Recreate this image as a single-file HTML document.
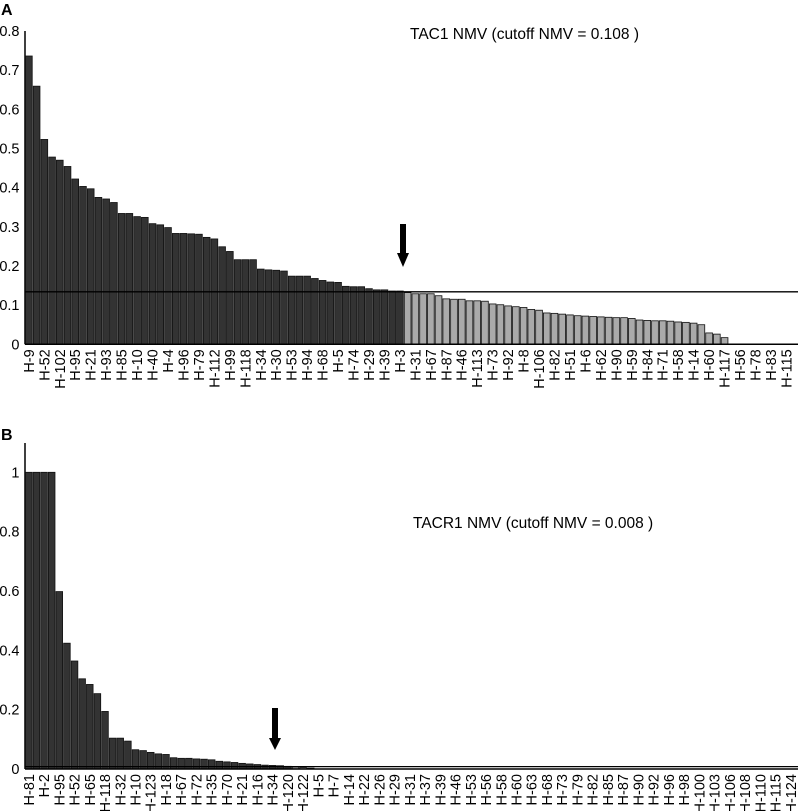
<!DOCTYPE html>
<html><head><meta charset="utf-8"><style>
html,body{margin:0;padding:0;background:#fff;}
svg{display:block;font-family:"Liberation Sans",Arial,sans-serif;}
</style></head><body>
<svg id="c" width="798" height="811" viewBox="0 0 798 811" xmlns="http://www.w3.org/2000/svg">
<text x="1" y="15" font-size="16" font-weight="bold">A</text>
<text x="410" y="39" font-size="15.5">TAC1 NMV (cutoff NMV = 0.108 )</text>
<text x="1" y="440" font-size="16" font-weight="bold">B</text>
<text x="413" y="528" font-size="15.5">TACR1 NMV (cutoff NMV = 0.008 )</text>
<g id="ga"></g>
<g id="gb"></g>
</svg>
<script>
const aLabels=["H-9","H-52","H-102","H-95","H-21","H-93","H-85","H-10","H-40","H-4","H-96","H-79","H-112","H-99","H-118","H-34","H-30","H-53","H-94","H-68","H-5","H-74","H-29","H-39","H-3","H-31","H-67","H-87","H-46","H-113","H-73","H-92","H-8","H-106","H-82","H-51","H-6","H-62","H-90","H-59","H-84","H-71","H-58","H-14","H-60","H-117","H-56","H-78","H-83","H-115"];
const aValues=[0.736,0.659,0.523,0.478,0.470,0.454,0.422,0.403,0.397,0.375,0.371,0.362,0.334,0.334,0.326,0.324,0.308,0.305,0.298,0.283,0.283,0.282,0.281,0.273,0.269,0.249,0.237,0.216,0.216,0.216,0.192,0.190,0.189,0.187,0.174,0.174,0.174,0.168,0.163,0.159,0.158,0.148,0.147,0.147,0.142,0.139,0.139,0.136,0.136,
0.132,0.129,0.129,0.129,0.124,0.116,0.115,0.115,0.111,0.111,0.110,0.103,0.101,0.098,0.096,0.094,0.089,0.087,0.080,0.079,0.077,0.075,0.073,0.072,0.071,0.070,0.069,0.068,0.068,0.066,0.062,0.061,0.060,0.060,0.059,0.057,0.056,0.054,0.050,0.029,0.026,0.017,0,0,0,0,0,0,0,0,0];
const aDarkCount=49;
const aCutoff=0.134;
const aTicks=[0,0.1,0.2,0.3,0.4,0.5,0.6,0.7,0.8];

const bLabels=["H-81","H-2","H-95","H-52","H-65","H-118","H-32","H-10","H-123","H-18","H-67","H-72","H-35","H-70","H-21","H-16","H-34","H-120","H-122","H-5","H-7","H-14","H-22","H-26","H-29","H-31","H-37","H-39","H-46","H-53","H-56","H-58","H-60","H-63","H-68","H-73","H-79","H-82","H-85","H-87","H-90","H-92","H-96","H-98","H-100","H-103","H-106","H-108","H-110","H-115","H-124"];
const bValues=[1,1,1,1,0.598,0.424,0.364,0.304,0.285,0.254,0.194,0.104,0.104,0.094,0.065,0.062,0.056,0.051,0.049,0.038,0.036,0.036,0.034,0.033,0.031,0.026,0.024,0.022,0.019,0.017,0.015,0.013,0.012,0.011,0.009,0.007,0.005,0.003,0,0,0,0,0,0,0,0,0,0,0,0,0,0,0,0,0,0,0,0,0,0,0,0,0,0,0,0,0,0,0,0,0,0,0,0,0,0,0,0,0,0,0,0,0,0,0,0,0,0,0,0,0,0,0,0,0,0,0,0,0,0,0];
const bDarkCount=35;
const bCutoff=0.008;
const bTicks=[0,0.2,0.4,0.6,0.8,1];

const NS="http://www.w3.org/2000/svg";
function mk(p,t,a){const e=document.createElementNS(NS,t);for(const k in a)e.setAttribute(k,a[k]);p.appendChild(e);return e;}

function draw(g,cfg){
  const x0=25,x1=798,bw=cfg.bw;
  const y=v=>cfg.y0-v*cfg.ppu;
  const xb=i=>x0+i*bw;
  const ax=mk(g,'line',{x1:x0,x2:x0,y1:cfg.yTop,y2:cfg.y0,stroke:'#000','stroke-width':1.5});
  
  
  cfg.ticks.forEach(t=>{
    const tx=mk(g,'text',{x:cfg.tickX,y:y(t)+5,'font-size':14.5,'text-anchor':'end'});
    tx.textContent=String(t);
    
    
  });
  cfg.values.forEach((v,i)=>{
    if(v<=0)return;
    const r=mk(g,'rect',{x:xb(i)+0.5,y:y(v),width:bw-1,height:cfg.y0-y(v),fill:i<cfg.dark?'#333':'#aaa',stroke:'#111','stroke-width':0.8});
    
    
  });
  const base=mk(g,'line',{x1:x0,x2:x1,y1:cfg.y0,y2:cfg.y0,stroke:'#000','stroke-width':1.5});
  
  
  const cut=mk(g,'line',{x1:x0,x2:x1,y1:y(cfg.cutoff),y2:y(cfg.cutoff),stroke:'#000','stroke-width':1.3});
  
  
  cfg.labels.forEach((l,j)=>{
    const cx=xb(j*2)+bw/2+5;
    const tx=mk(g,'text',{x:0,y:0,'font-size':14.5,'text-anchor':'end',transform:`translate(${cx},${cfg.y0+5}) rotate(-90)`});
    tx.textContent=l;
    
    
  });
  const ar=cfg.arrow;
  const p=mk(g,'polygon',{points:`${ar.x-3},${ar.top} ${ar.x+3},${ar.top} ${ar.x+3},${ar.hb} ${ar.x+6},${ar.hb} ${ar.x},${ar.tip} ${ar.x-6},${ar.hb} ${ar.x-3},${ar.hb}`,fill:'#000'});
  
  
}
draw(document.getElementById('ga'),{values:aValues,labels:aLabels,dark:aDarkCount,cutoff:aCutoff,ticks:aTicks,bw:7.73,y0:344.3,ppu:391.7,yTop:31,tickX:19.5,arrow:{x:403,top:224,hb:253,tip:267}});
draw(document.getElementById('gb'),{values:bValues,labels:bLabels,dark:bDarkCount,cutoff:bCutoff,ticks:bTicks,bw:7.62,y0:769,ppu:296.7,yTop:443,tickX:19.5,arrow:{x:275,top:708,hb:738,tip:750}});
</script>
</body></html>
